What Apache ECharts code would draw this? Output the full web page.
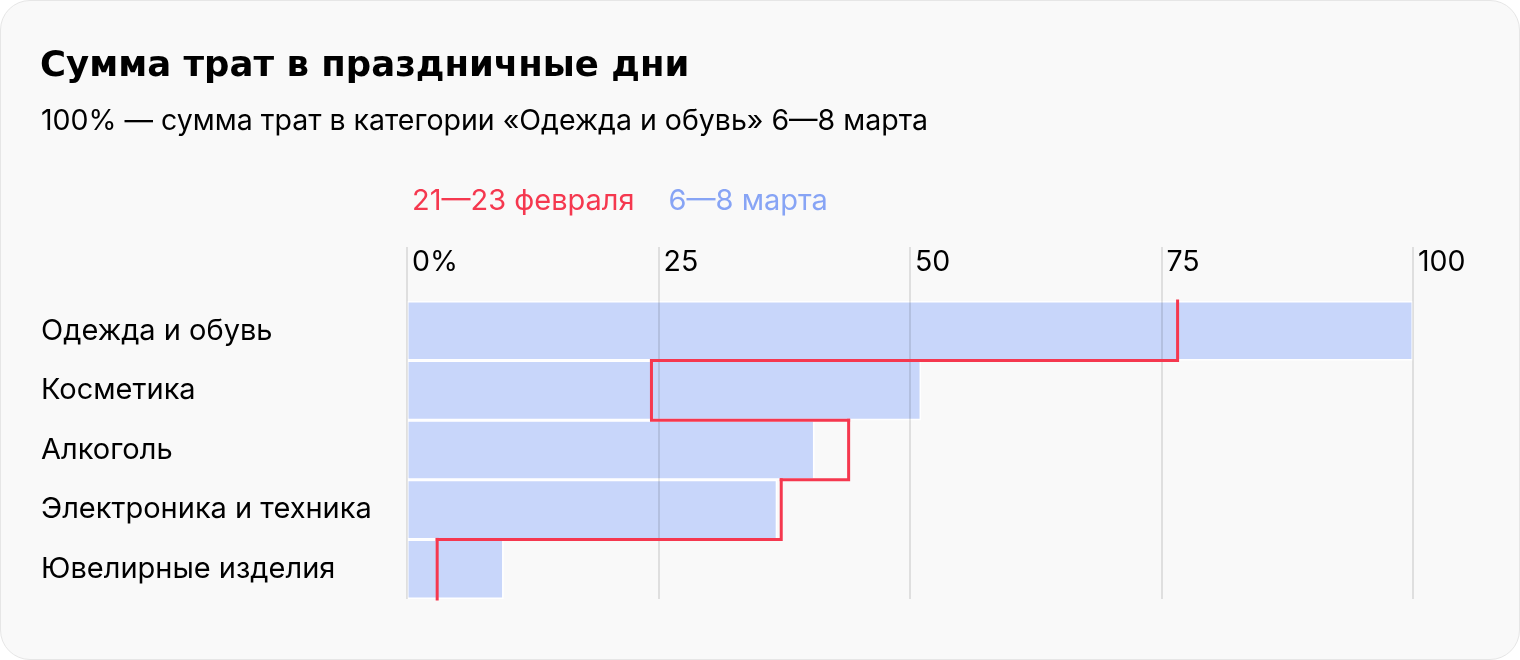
<!DOCTYPE html>
<html><head><meta charset="utf-8">
<script src="https://cdn.jsdelivr.net/npm/echarts@6/dist/echarts.min.js"></script>
<style>
html,body{margin:0;padding:0;background:#fff;}
#c{position:absolute;left:0;top:0;width:1520px;height:660px;box-sizing:border-box;border:1px solid #e6e6e6;border-radius:30px;background:#f9f9f9;overflow:hidden;}
</style></head><body>
<div id="c"></div>
<script>
const categories = ['Одежда и обувь', 'Косметика', 'Алкоголь', 'Электроника и техника', 'Ювелирные изделия'];
const marchValues = [100, 51.1, 40.5, 36.8, 9.6];
const febValues = [76.6, 24.3, 43.9, 37.2, 3.0];
const seriesNames = ['21—23 февраля', '6—8 марта'];
const tickValues = [0, 25, 50, 75, 100];

const FONT = 'Inter';
const chart = echarts.init(document.getElementById('c'), null, {renderer: 'canvas'});
const option = {
  animation: false,
  title: [
    {text: 'Сумма трат в праздничные дни', left: 39, top: 48, padding: 0,
     textStyle: {fontFamily: 'DejaVu Sans', fontSize: 35.5, fontWeight: 'bold', color: '#000'}},
    {text: '100% — сумма трат в категории «Одежда и обувь» 6—8 марта', left: 40, top: 106, padding: 0,
     textStyle: {fontFamily: FONT, fontSize: 28.5, fontWeight: 'normal', color: '#000'}}
  ],
  legend: {
    left: 401, top: 181, itemWidth: 0, itemHeight: 0, itemGap: 28,
    selectedMode: false,
    textStyle: {fontFamily: FONT, fontSize: 29},
    data: [
      {name: seriesNames[0], icon: 'rect', textStyle: {color: '#f5384f'}},
      {name: seriesNames[1], icon: 'rect', textStyle: {color: '#87a4f5'}}
    ]
  },
  grid: [
    {left: 406, right: 106, top: 300, bottom: 60},
    {left: 406, right: 106, top: 246, bottom: 60}
  ],
  xAxis: [
    {gridIndex: 0, type: 'value', min: 0, max: 100, show: false},
    {gridIndex: 1, type: 'value', min: 0, max: 100, interval: 25, position: 'top', z: 5,
     axisLine: {show: false}, axisTick: {show: false},
     splitLine: {show: true, lineStyle: {color: 'rgba(0,0,0,0.1)', width: 2}},
     axisLabel: {inside: true, margin: 1, align: 'left', verticalAlign: 'top', padding: [0,0,0,5],
       fontFamily: FONT, fontSize: 28.5, color: '#000',
       formatter: v => (v === 0 ? '0%' : String(v))}}
  ],
  yAxis: [
    {gridIndex: 0, type: 'category', data: categories, inverse: true,
     axisLine: {show: false}, axisTick: {show: false}, splitLine: {show: false},
     axisLabel: {align: 'left', margin: 366, fontFamily: FONT, fontSize: 29, color: '#000'}},
    {gridIndex: 1, type: 'value', show: false}
  ],
  series: [
    {name: seriesNames[1], type: 'bar', xAxisIndex: 0, yAxisIndex: 0, data: marchValues,
     barCategoryGap: 0, z: 2,
     itemStyle: {color: '#c8d6fa', borderColor: '#ffffff', borderWidth: 1.5}},
    {name: seriesNames[0], type: 'custom', xAxisIndex: 0, yAxisIndex: 0, z: 10,
     data: febValues.map((v, i) => [v, i]),
     encode: {x: 0, y: 1},
     renderItem: function (params, api) {
       const i = params.dataIndex;
       const v = api.value(0);
       const pt = api.coord([v, i]);
       const bh = api.size([0, 1])[1];
       const top = pt[1] - bh / 2, bot = pt[1] + bh / 2;
       const pts = [[pt[0], top], [pt[0], bot]];
       if (i + 1 < febValues.length) {
         const nx = api.coord([febValues[i + 1], i + 1])[0];
         pts.push([nx, bot]);
       }
       return {type: 'polyline', shape: {points: pts},
         style: {stroke: '#f5384f', lineWidth: 3, fill: null, lineJoin: 'miter', lineCap: 'square'}};
     }}
  ]
};
chart.setOption(option);
</script>
</body></html>
